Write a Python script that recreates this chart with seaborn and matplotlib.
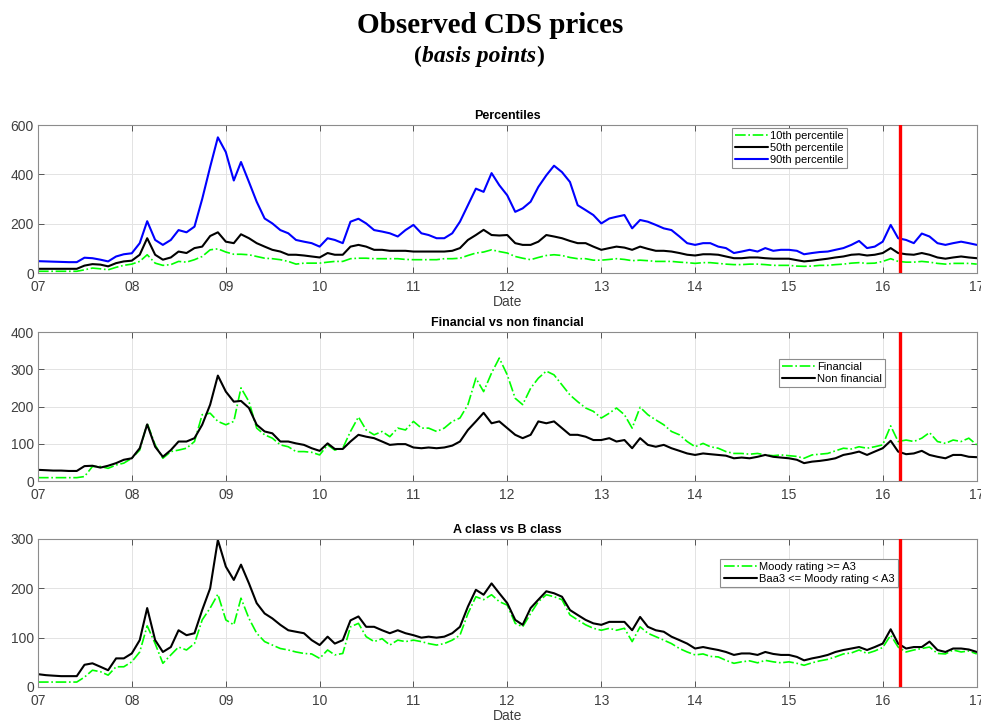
import matplotlib
matplotlib.use("Agg")
import matplotlib.pyplot as plt
import matplotlib.dates as mdates
import pandas as pd
import seaborn as sns

# monthly observations, Jan 2007 - Jan 2017
dates = pd.date_range("2007-01-01", "2017-01-01", freq="MS")

p10 = [7, 7, 7, 7, 7, 7, 13, 20, 17, 13, 23, 31,
       36, 47, 74, 40, 31, 34, 47, 44, 54, 67, 94, 98,
       85, 76, 76, 74, 67, 60, 58, 54, 47, 36, 40, 40,
       40, 44, 47, 47, 58, 60, 60, 58, 58, 58, 58, 55,
       54, 54, 54, 54, 58, 58, 60, 71, 81, 85, 94, 87,
       81, 67, 60, 54, 63, 71, 74, 71, 63, 58, 58, 52,
       52, 55, 58, 55, 50, 52, 50, 47, 47, 47, 44, 42,
       39, 42, 42, 39, 36, 34, 34, 36, 36, 34, 31, 31,
       31, 28, 27, 28, 31, 31, 34, 36, 40, 42, 39, 40,
       47, 58, 47, 44, 44, 47, 44, 39, 36, 39, 39, 39,
       36]
p50 = [17, 17, 17, 17, 17, 17, 30, 36, 34, 27, 40, 47,
       50, 74, 141, 74, 54, 63, 87, 81, 101, 107, 150, 165,
       127, 121, 157, 141, 121, 107, 94, 87, 74, 74, 71, 67,
       63, 81, 74, 74, 107, 114, 107, 94, 94, 90, 90, 90,
       87, 87, 87, 87, 87, 90, 101, 134, 154, 175, 154, 152,
       154, 121, 114, 114, 127, 154, 148, 141, 130, 121, 121, 107,
       94, 101, 107, 103, 94, 107, 98, 90, 90, 87, 81, 74,
       71, 76, 76, 74, 67, 60, 60, 63, 63, 60, 58, 58,
       58, 52, 47, 50, 54, 58, 63, 67, 74, 76, 71, 74,
       81, 101, 81, 76, 74, 81, 74, 63, 58, 63, 67, 63,
       60]
p90 = [48, 47, 46, 45, 44, 44, 62, 60, 54, 47, 67, 76,
       80, 121, 210, 134, 114, 134, 174, 165, 188, 300, 430, 550,
       490, 375, 450, 369, 289, 221, 201, 174, 161, 134, 127, 121,
       107, 141, 134, 121, 208, 220, 201, 174, 168, 161, 148, 174,
       195, 161, 154, 141, 141, 161, 208, 275, 342, 329, 405, 356,
       315, 248, 262, 289, 349, 396, 435, 409, 369, 275, 255, 235,
       201, 221, 228, 235, 181, 215, 208, 195, 181, 174, 148, 121,
       114, 121, 121, 107, 101, 81, 87, 94, 87, 101, 90, 94,
       94, 90, 76, 81, 85, 87, 94, 101, 114, 130, 101, 107,
       127, 195, 141, 134, 121, 160, 148, 121, 114, 121, 127, 121,
       114]

financial = [9, 9, 9, 9, 9, 9, 12, 39, 39, 34, 43, 48,
             61, 83, 155, 97, 61, 79, 83, 88, 106, 178, 182, 160,
             151, 160, 250, 213, 142, 124, 115, 97, 92, 79, 79, 77,
             70, 97, 83, 88, 133, 172, 137, 124, 133, 119, 142, 137,
             160, 142, 142, 133, 142, 160, 169, 205, 276, 240, 290, 330,
             285, 222, 205, 249, 276, 295, 285, 258, 231, 213, 196, 187,
             169, 182, 196, 178, 142, 198, 178, 164, 151, 133, 124, 106,
             92, 101, 92, 88, 79, 74, 74, 72, 74, 70, 68, 70,
             68, 66, 61, 70, 72, 74, 81, 88, 86, 92, 88, 92,
             97, 148, 106, 110, 106, 115, 130, 106, 101, 110, 106, 115,
             97]
non_financial = [30, 29, 28, 28, 27, 27, 40, 41, 36, 41, 48, 57,
                 61, 88, 152, 92, 65, 83, 106, 106, 115, 151, 205, 283,
                 240, 213, 215, 196, 151, 133, 128, 106, 106, 101, 97, 88,
                 81, 101, 86, 86, 106, 124, 119, 115, 106, 97, 99, 99,
                 90, 88, 90, 88, 90, 95, 106, 137, 160, 183, 155, 160,
                 142, 124, 115, 124, 160, 155, 160, 142, 124, 124, 119, 110,
                 110, 115, 106, 110, 88, 115, 97, 92, 97, 88, 81, 74,
                 70, 74, 72, 70, 68, 61, 63, 61, 65, 70, 65, 63,
                 61, 57, 48, 52, 54, 57, 61, 70, 74, 79, 70, 79,
                 88, 108, 79, 72, 74, 81, 70, 65, 61, 70, 70, 65,
                 64]

a_class = [10, 10, 10, 10, 10, 10, 20, 34, 31, 24, 41, 41,
           51, 71, 124, 88, 48, 65, 81, 75, 88, 136, 160, 188,
           136, 126, 180, 139, 109, 92, 85, 78, 75, 71, 68, 67,
           58, 75, 65, 68, 122, 129, 102, 92, 98, 85, 95, 92,
           95, 92, 88, 85, 88, 95, 105, 149, 183, 177, 187, 173,
           166, 129, 122, 149, 173, 187, 183, 177, 146, 136, 126, 119,
           115, 119, 115, 119, 92, 122, 109, 102, 95, 88, 78, 71,
           65, 67, 62, 61, 54, 48, 51, 53, 49, 54, 51, 49,
           51, 48, 44, 49, 53, 56, 61, 67, 69, 75, 68, 73,
           80, 105, 81, 71, 75, 78, 81, 68, 67, 75, 71, 73,
           67]
b_class = [26, 24, 23, 22, 22, 22, 45, 48, 41, 34, 58, 58,
           68, 95, 160, 95, 71, 81, 115, 105, 109, 156, 200, 298,
           244, 217, 248, 210, 170, 149, 139, 126, 115, 112, 109, 95,
           85, 102, 88, 95, 135, 143, 122, 122, 115, 109, 115, 109,
           105, 100, 102, 100, 102, 109, 122, 163, 197, 187, 210, 190,
           170, 136, 126, 160, 177, 194, 190, 183, 156, 146, 136, 129,
           126, 132, 132, 132, 115, 142, 122, 115, 112, 102, 95, 88,
           78, 81, 78, 75, 71, 65, 68, 68, 65, 71, 67, 65,
           65, 61, 54, 58, 61, 65, 71, 75, 78, 81, 75, 81,
           88, 117, 88, 78, 81, 81, 92, 75, 71, 78, 78, 76,
           71]

break_date = pd.Timestamp("2016-03-10")

sns.set_style("whitegrid")
plt.rcParams['font.family'] = ['Liberation Sans', 'DejaVu Sans']

fig = plt.figure(figsize=(9.81, 7.23), dpi=100)

# axes boxes (left, bottom, width, height) in figure fraction
ax1 = fig.add_axes([0.0387, 0.6224, 0.957, 0.2047])
ax2 = fig.add_axes([0.0387, 0.3347, 0.957, 0.2061])
ax3 = fig.add_axes([0.0387, 0.0498, 0.957, 0.2047])

GREEN = '#00ff00'


def style(ax, title, yticks, xlabel, leg_anchor):
    ax.set_xlim(pd.Timestamp("2007-01-01"), pd.Timestamp("2017-01-01"))
    ax.set_ylim(yticks[0], yticks[-1])
    ax.set_yticks(yticks)
    ax.xaxis.set_major_locator(mdates.YearLocator())
    ax.xaxis.set_major_formatter(mdates.DateFormatter('%y'))
    ax.grid(True, color='#e3e3e3', linewidth=0.7)
    for s in ax.spines.values():
        s.set_color('#8c8c8c')
        s.set_linewidth(0.8)
    ax.tick_params(direction='in', length=4, width=0.7, color='#555555',
                   labelsize=10, labelcolor='#404040', top=True, right=True,
                   bottom=True, left=True)
    ax.tick_params(axis='x', pad=5)
    ax.tick_params(axis='y', pad=3)
    ax.set_title(title, fontsize=9, fontweight='bold', pad=4, color='black')
    ax.set_xlabel(xlabel, fontsize=10, color='#404040', labelpad=1)
    ax.set_ylabel('')
    ax.axvline(break_date, color='#ff0000', linewidth=2.4, zorder=5)
    leg = ax.legend(loc='upper left', bbox_to_anchor=leg_anchor, fontsize=8,
                    frameon=True, fancybox=False, framealpha=1,
                    edgecolor='#8c8c8c', handlelength=3.0, handletextpad=0.15,
                    labelspacing=0.15, borderpad=0.3, borderaxespad=0)
    leg.get_frame().set_linewidth(0.8)
    for t in leg.get_texts():
        t.set_color('black')


sns.lineplot(x=dates, y=p10, ax=ax1, color=GREEN, linestyle='-.', linewidth=1.2,
             label='10th percentile')
sns.lineplot(x=dates, y=p50, ax=ax1, color='black', linewidth=1.5,
             label='50th percentile')
sns.lineplot(x=dates, y=p90, ax=ax1, color='#0000ff', linewidth=1.5,
             label='90th percentile')
style(ax1, 'Percentiles', [0, 200, 400, 600], 'Date', (0.739, 0.98))

sns.lineplot(x=dates, y=financial, ax=ax2, color=GREEN, linestyle='-.', linewidth=1.2,
             label='Financial')
sns.lineplot(x=dates, y=non_financial, ax=ax2, color='black', linewidth=1.5,
             label='Non financial')
style(ax2, 'Financial vs non financial', [0, 100, 200, 300, 400], '', (0.789, 0.819))

sns.lineplot(x=dates, y=a_class, ax=ax3, color=GREEN, linestyle='-.', linewidth=1.2,
             label='Moody rating >= A3')
sns.lineplot(x=dates, y=b_class, ax=ax3, color='black', linewidth=1.5,
             label='Baa3 <= Moody rating < A3')
style(ax3, 'A class vs B class', [0, 100, 200, 300], 'Date', (0.727, 0.865))

# main heading
serif = ['Liberation Serif', 'DejaVu Serif']
fig.text(0.5, 0.965, 'Observed CDS prices', ha='center', va='center',
         fontsize=21, fontweight='bold', family=serif, color='black')
t1 = fig.text(0.422, 0.922, '(', ha='left', va='center', fontsize=17,
              fontweight='bold', family=serif, color='black')
t2 = plt.annotate('basis points', xycoords=t1, xy=(1, 0), va='bottom',
                  fontsize=17, fontweight='bold', style='italic', family=serif,
                  color='black', annotation_clip=False)
plt.annotate(')', xycoords=t2, xy=(1, 0), va='bottom', fontsize=17,
             fontweight='bold', family=serif, color='black', annotation_clip=False)

fig.savefig('out.png', dpi=100)
